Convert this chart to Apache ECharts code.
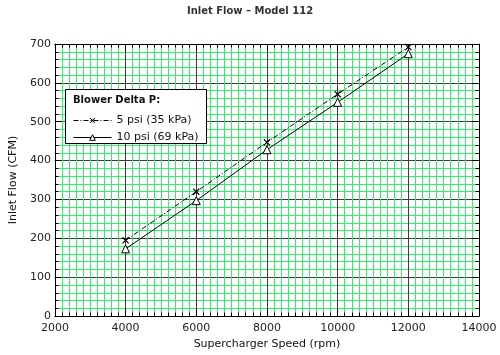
<!DOCTYPE html>
<html><head><meta charset="utf-8">
<script src="https://cdn.jsdelivr.net/npm/echarts@6/dist/echarts.min.js"></script>
<style>html,body{margin:0;padding:0;background:#fff}#c{width:500px;height:355px}</style>
</head><body><div id="c"></div>
<script>
const speeds = [4000, 6000, 8000, 10000, 12000];
const flow5psi = [195, 320, 447, 571, 692];
const flow10psi = [173, 297, 428, 550, 675];
const seriesNames = ['5 psi (35 kPa)', '10 psi (69 kPa)'];
const titleText = 'Inlet Flow – Model 112';
const legendTitle = 'Blower Delta P:';
const xName = 'Supercharger Speed (rpm)';
const yName = 'Inlet Flow (CFM)';

const FONT = 'DejaVu Sans';
const GREEN = '#33f06a';
const MAJOR = '#3a3a3a';
const xSymbol = 'path://M0,1.2L1.2,0L10,8.8L8.8,10Z M8.8,0L10,1.2L1.2,10L0,8.8Z';

const chart = echarts.init(document.getElementById('c'), null, {renderer: 'canvas'});
const baseX = {type: 'value', min: 2000, max: 14000, interval: 2000};
const baseY = {type: 'value', min: 0, max: 700, interval: 100};
const tickCommon = {show: true, inside: true, length: 7, lineStyle: {color: '#000', width: 1}};
const minorCommon = {show: true, length: 3.5, lineStyle: {color: '#000', width: 1}};
chart.setOption({
  animation: false,
  title: {text: titleText, left: 'center', top: 1, textStyle: {fontFamily: FONT, fontSize: 10, fontWeight: 'bold', color: '#333'}},
  grid: {left: 51, right: 21, top: 44, bottom: 36},
  xAxis: [
    Object.assign({}, baseX, {
      position: 'bottom', name: xName, nameLocation: 'middle', nameGap: 20,
      nameTextStyle: {fontFamily: FONT, fontSize: 11, color: '#111'},
      axisLine: {show: true, onZero: false, lineStyle: {color: '#000', width: 1}},
      axisTick: tickCommon,
      minorTick: Object.assign({splitNumber: 10}, minorCommon),
      axisLabel: {fontFamily: FONT, fontSize: 11, color: '#222', margin: 7, formatter: v => String(v)},
      splitLine: {show: true, lineStyle: {color: MAJOR, width: 1}},
      minorSplitLine: {show: true, lineStyle: {color: GREEN, width: 1}}
    }),
    Object.assign({}, baseX, {
      position: 'top',
      axisLine: {show: true, onZero: false, lineStyle: {color: '#000', width: 1}},
      axisTick: tickCommon,
      minorTick: Object.assign({splitNumber: 10}, minorCommon),
      axisLabel: {show: false}, splitLine: {show: false}
    })
  ],
  yAxis: [
    Object.assign({}, baseY, {
      position: 'left', name: yName, nameLocation: 'middle', nameGap: 33,
      nameTextStyle: {fontFamily: FONT, fontSize: 11, color: '#111'},
      axisLine: {show: true, onZero: false, lineStyle: {color: '#000', width: 1}},
      axisTick: tickCommon,
      minorTick: Object.assign({splitNumber: 5}, minorCommon),
      axisLabel: {fontFamily: FONT, fontSize: 11, color: '#222', margin: 4, formatter: v => String(v)},
      splitLine: {show: true, lineStyle: {color: MAJOR, width: 1}},
      minorSplitLine: {show: true, lineStyle: {color: GREEN, width: 1}}
    }),
    Object.assign({}, baseY, {
      position: 'right',
      axisLine: {show: true, onZero: false, lineStyle: {color: '#000', width: 1}},
      axisTick: tickCommon,
      minorTick: Object.assign({splitNumber: 5}, minorCommon),
      axisLabel: {show: false}, splitLine: {show: false}
    })
  ],
  graphic: [
    {type: 'rect', z: 3, shape: {x: 65.5, y: 89.5, width: 141, height: 54},
     style: {fill: '#fff', stroke: '#000', lineWidth: 1}},
    {type: 'text', z: 4, x: 73, y: 95, style: {text: legendTitle, font: 'bold 10px "DejaVu Sans"', fill: '#111'}}
  ],
  legend: {
    z: 5, orient: 'vertical', left: 68, top: 110, itemWidth: 38, itemHeight: 7, itemGap: 6,
    textStyle: {fontFamily: FONT, fontSize: 11, color: '#111'},
    itemStyle: {borderWidth: 1},
    lineStyle: {width: 1},
    data: seriesNames
  },
  series: [
    {name: seriesNames[0], type: 'line', data: speeds.map((s, i) => [s, flow5psi[i]]),
     symbol: xSymbol, symbolSize: 7, z: 3,
     itemStyle: {color: '#000'},
     lineStyle: {color: '#000', width: 1, type: [5, 2, 1, 2]}},
    {name: seriesNames[1], type: 'line', data: speeds.map((s, i) => [s, flow10psi[i]]),
     symbol: 'triangle', symbolSize: 8, z: 3,
     itemStyle: {color: '#fff', borderColor: '#000', borderWidth: 1},
     lineStyle: {color: '#000', width: 1}}
  ]
});
</script></body></html>
